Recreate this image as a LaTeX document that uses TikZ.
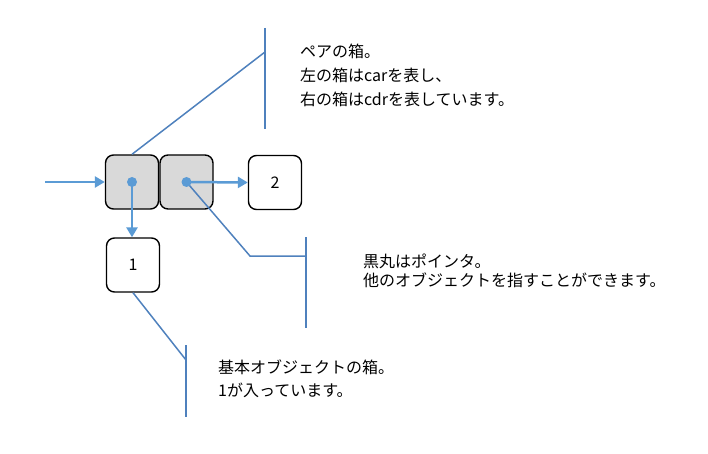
\documentclass[tikz,border=0pt]{standalone}
\usepackage{fontspec}
\setmainfont{Noto Sans CJK JP}
\usetikzlibrary{arrows.meta}
\definecolor{ptrblue}{HTML}{5B9BD5}
\definecolor{callblue}{HTML}{4F81BD}
\definecolor{cellgray}{HTML}{D9D9D9}
\tikzset{
    cell/.style={draw=black, line width=1.4pt, rounded corners=8pt, minimum width=53pt, minimum height=54pt, inner sep=0pt, font=\fontsize{16}{18}\selectfont},
    pair/.style={cell, fill=cellgray},
    ptr/.style={ptrblue, line width=2.5pt, -{Triangle[length=10pt, width=11pt]}},
    dot/.style={ptrblue},
    callout/.style={callblue, line width=1.5pt},
    note/.style={anchor=north west, align=left, inner sep=0pt}
}
\begin{document}
\begin{tikzpicture}[x=1pt, y=-1pt]
    \useasboundingbox (0,0) rectangle (708,454);
    % boxes
    \node [pair] (car) at (132,182) {};
    \node [pair] (cdr) at (186.5,182) {};
    \node [cell] (two) at (275,182.5) {2};
    \node [cell] (one) at (133,265) {1};
    % callout ends
    \coordinate (entry) at (45,182);
    \coordinate (pairtop) at (265,28);
    \coordinate (pairknee) at (265,52);
    \coordinate (pairbot) at (265,129);
    \coordinate (dotelbow) at (250,256);
    \coordinate (dotknee) at (306,256);
    \coordinate (dottop) at (306,237);
    \coordinate (dotbot) at (306,328);
    \coordinate (onetop) at (186,345);
    \coordinate (oneknee) at (186,360);
    \coordinate (onebot) at (186,417);
    % callouts
    \draw [callout] (pairtop) -- (pairbot);
    \draw [callout] (car.north) -- (pairknee);
    \draw [callout] (cdr.center) -- (dotelbow) -- (dotknee);
    \draw [callout] (dottop) -- (dotbot);
    \draw [callout] (one.south) -- (oneknee);
    \draw [callout] (onetop) -- (onebot);
    % pointers
    \draw [ptr] (entry) -- (car.west);
    \draw [ptr] (cdr.center) -- (two.west);
    \draw [ptr] (car.center) -- (car.center |- one.north);
    \fill [dot] (car.center) circle (5pt);
    \fill [dot] (cdr.center) circle (5pt);
    % notes
    \node [note, font=\fontsize{16}{24}\selectfont] (pairnote) at (300,44) {ペアの箱。\\左の箱はcarを表し、\\右の箱はcdrを表しています。};
    \node [note, font=\fontsize{16}{19}\selectfont] (dotnote) at (363,254) {黒丸はポインタ。\\他のオブジェクトを指すことができます。};
    \node [note, font=\fontsize{16}{23}\selectfont] (onenote) at (218,360) {基本オブジェクトの箱。\\1が入っています。};
\end{tikzpicture}
\end{document}
